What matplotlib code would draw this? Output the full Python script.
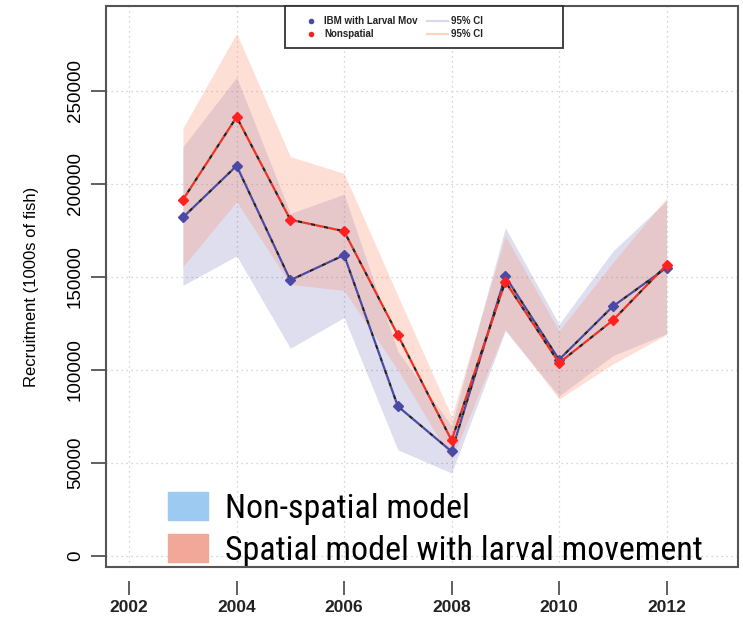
import numpy as np
import matplotlib
matplotlib.use("Agg")
import matplotlib.pyplot as plt
from matplotlib.patches import Patch, Rectangle
from matplotlib.lines import Line2D

years = [2003, 2004, 2005, 2006, 2007, 2008, 2009, 2010, 2011, 2012]

# IBM with larval movement (blue)
ibm = [182000, 209800, 148300, 161800, 80500, 56200, 150300, 105600, 134200, 155000]
ibm_lo = [145500, 161300, 111700, 128200, 57100, 44600, 121000, 86000, 107700, 119500]
ibm_hi = [220000, 257400, 184200, 194500, 110000, 70000, 176500, 124600, 163900, 191000]

# Nonspatial (red)
nonsp = [191500, 236000, 180800, 174600, 118800, 62200, 147500, 103800, 126700, 156500]
nonsp_lo = [155600, 190500, 146000, 142800, 100000, 51800, 122000, 84400, 103200, 119000]
nonsp_hi = [230000, 281000, 214700, 205700, 140000, 75000, 172000, 121000, 157700, 192500]

xticks = [2002, 2004, 2006, 2008, 2010, 2012]
yticks = [0, 50000, 100000, 150000, 200000, 250000]

plt.rcParams['font.family'] = ['Liberation Sans', 'DejaVu Sans']

fig = plt.figure(figsize=(7.43, 6.22), dpi=100)
ax = fig.add_axes([0.1427, 0.0884, 0.8506, 0.902])

blue_fill = (0.0, 0.0, 0.545)
orange_fill = (0.98, 0.59, 0.47)

ax.fill_between(years, ibm_lo, ibm_hi, color=blue_fill, alpha=0.13, lw=0)
ax.fill_between(years, nonsp_lo, nonsp_hi, color=orange_fill, alpha=0.3, lw=0)

ax.plot(years, ibm, color='#4a4aa6', lw=1.6, ls=(0, (4, 2)), gapcolor='#222222', zorder=3)
ax.plot(years, ibm, ls='none', marker='D', ms=5.5, color='#4a4aa6', zorder=4)
ax.plot(years, nonsp, color='#f03020', lw=1.6, ls=(0, (4, 2)), gapcolor='#222222', zorder=5)
ax.plot(years, nonsp, ls='none', marker='D', ms=5.5, color='#ff2020', zorder=6)

# box and spines first (moving a spine resets its tick labels)
for s in ax.spines.values():
    s.set_color('#555555')
    s.set_linewidth(1.3)
ax.spines['bottom'].set_position(('outward', 10))
ax.spines['bottom'].set_visible(False)
ax.add_patch(Rectangle((0, 0), 1, 1, transform=ax.transAxes, fill=False,
                       ec='#555555', lw=1.5, clip_on=False, zorder=10))

ax.set_xlim(2001.57, 2013.33)
ax.set_ylim(-5900, 295700)
ax.set_xticks(xticks)
ax.set_yticks(yticks)
ax.set_yticklabels([str(v) for v in yticks], rotation=90, va='center', fontsize=13.5)
ax.set_xticklabels([str(v) for v in xticks], fontsize=12.5, fontweight='bold', color='#222222')
ax.grid(True, color='#c8c8c8', ls=(0, (1, 3)), lw=0.9)
ax.set_axisbelow(True)
ax.tick_params(axis='x', direction='out', length=10, width=1.2, color='#444444', pad=4)
ax.tick_params(axis='y', direction='out', length=11, width=1.2, color='#444444', pad=5)
ax.set_ylabel('Recruitment (1000s of fish)', fontsize=12, labelpad=20)

# small legend at the top (frame drawn separately, R style)
ax.add_patch(Rectangle(((285 - 106) / 632, (567 - 48) / 561), 278 / 632, 42 / 561,
                       transform=ax.transAxes, fill=True, fc='white',
                       ec='#333333', lw=1.3, clip_on=False, zorder=11))
h1 = [Line2D([], [], ls='none', marker='o', ms=3, color='#4a4aa6'),
      Line2D([], [], ls='none', marker='o', ms=3, color='#ff2020'),
      Line2D([], [], color='#d8d8f0', lw=1.5),
      Line2D([], [], color='#fcd2c0', lw=1.5)]
lab1 = ['IBM with Larval Mov', 'Nonspatial', '95% CI', '95% CI']
leg1 = ax.legend(h1, lab1, ncol=2, loc='upper left',
                 bbox_to_anchor=((300 - 106) / 632, (567 - 16) / 561),
                 borderaxespad=0, borderpad=0, frameon=False,
                 prop={'size': 7, 'weight': 'bold'},
                 handlelength=2.2, columnspacing=0.9, labelspacing=0.35,
                 handletextpad=0.3)
leg1.set_zorder(12)
for t in leg1.get_texts():
    t.set_color('#222222')
ax.add_artist(leg1)

# large legend at the bottom
h2 = [Patch(color='#9ccaf0'), Patch(color='#f2a898')]
lab2 = ['Non-spatial model', 'Spatial model with larval movement']
leg2 = ax.legend(h2, lab2, loc='lower left', bbox_to_anchor=((168 - 106) / 632, 0.0),
                 frameon=False, borderaxespad=0, borderpad=0,
                 prop={'family': ['Roboto Condensed', 'PT Sans Narrow', 'DejaVu Sans'], 'size': 24.5},
                 handlelength=1.17, handleheight=0.9, handletextpad=0.5, labelspacing=0.27)

fig.savefig('out.png', dpi=100)
